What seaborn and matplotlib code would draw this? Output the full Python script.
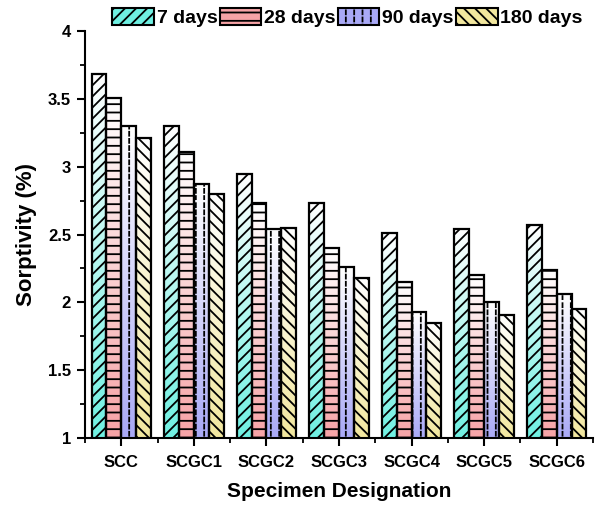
import warnings
warnings.filterwarnings("ignore")
import numpy as np
import pandas as pd
import matplotlib
matplotlib.use("Agg")
import matplotlib.pyplot as plt
import seaborn as sns
from matplotlib import hatch as mhatch
from matplotlib.path import Path
from matplotlib.patches import Patch
from matplotlib.colors import to_rgb
from matplotlib.ticker import MultipleLocator, FixedLocator

# ---- data ----
specimens = ["SCC", "SCGC1", "SCGC2", "SCGC3", "SCGC4", "SCGC5", "SCGC6"]
ages = ["7 days", "28 days", "90 days", "180 days"]
days7 = [3.68, 3.30, 2.95, 2.73, 2.51, 2.54, 2.57]
days28 = [3.51, 3.11, 2.73, 2.40, 2.15, 2.20, 2.24]
days90 = [3.30, 2.87, 2.54, 2.26, 1.93, 2.00, 2.06]
days180 = [3.21, 2.80, 2.55, 2.18, 1.85, 1.91, 1.95]
yticks = [1, 1.5, 2, 2.5, 3, 3.5, 4]
ytick_labels = ["1", "1.5", "2", "2.5", "3", "3.5", "4"]

colors = ["#6ff0e2", "#f6a3a6", "#a9a9f6", "#f2e79e"]
hatches = ["///", "--", "::", "\\\\\\"]


# custom hatch: vertical dashed lines
class VerticalDashHatch(mhatch.HatchPatternBase):
    def __init__(self, hatch, density):
        self.num_lines = int(hatch.count(":") * density)
        self.segs = 14
        self.num_vertices = self.num_lines * self.segs * 2

    def set_vertices_and_codes(self, vertices, codes):
        xs, step = np.linspace(0.0, 1.0, self.num_lines, False, retstep=True)
        xs = xs + step / 2.0
        ys, ystep = np.linspace(0.0, 1.0, self.segs, False, retstep=True)
        i = 0
        for x in xs:
            for y in ys:
                vertices[i] = (x, y)
                vertices[i + 1] = (x, y + ystep * 0.55)
                codes[i] = Path.MOVETO
                codes[i + 1] = Path.LINETO
                i += 2


mhatch._hatch_types.append(VerticalDashHatch)

df = pd.DataFrame({
    "Specimen": specimens * 4,
    "Age": sum([[a] * len(specimens) for a in ages], []),
    "Sorptivity": days7 + days28 + days90 + days180,
})

plt.rcParams["font.family"] = ["Liberation Sans", "DejaVu Sans"]
plt.rcParams["font.weight"] = "bold"
plt.rcParams["hatch.linewidth"] = 1.3
plt.rcParams["hatch.color"] = "black"

fig = plt.figure(figsize=(5.97, 5.08), dpi=100)
ax = fig.add_axes([0.1424, 0.1378, 0.8509, 0.801])

sns.barplot(data=df, x="Specimen", y="Sorptivity", hue="Age",
            order=specimens, hue_order=ages, palette=colors,
            width=0.82, gap=0, ax=ax, legend=False, errorbar=None)

ax.set_ylim(1, 4)
ax.set_xlim(-0.5, 6.5)

for k, cont in enumerate(ax.containers):
    rgb = np.array(to_rgb(colors[k]))
    for bar in cont.patches:
        x, w = bar.get_x(), bar.get_width()
        top = bar.get_y() + bar.get_height()
        n = 100
        t = np.linspace(0, 1, n)[:, None]  # 0 at top -> 1 at bottom
        grad = np.ones((n, 1, 3)) * (1 - t[..., None]) + rgb[None, None, :] * t[..., None]
        grad = np.clip(grad, 0, 1)
        im = ax.imshow(grad, extent=[x, x + w, 1.0, top], origin="upper",
                       aspect="auto", zorder=1, interpolation="bilinear")
        im.set_clip_path(bar)
        bar.set_facecolor("none")
        bar.set_edgecolor("black")
        bar.set_linewidth(1.6)
        bar.set_hatch(hatches[k])
        bar.set_zorder(2)

ax.set_ylim(1, 4)
ax.set_xlim(-0.5, 6.5)

sns.despine(ax=ax)
for s in ["left", "bottom"]:
    ax.spines[s].set_linewidth(1.5)

ax.set_yticks(yticks)
ax.set_yticklabels(ytick_labels)
ax.yaxis.set_minor_locator(MultipleLocator(0.25))
ax.xaxis.set_minor_locator(FixedLocator(np.arange(-0.5, 7, 1)))
ax.tick_params(axis="both", which="major", length=6, width=1.5, direction="out", pad=4)
ax.tick_params(axis="both", which="minor", length=3.5, width=1.3, direction="out")
ax.tick_params(axis="y", labelsize=12)
ax.tick_params(axis="x", labelsize=12, pad=6)
for lab in ax.get_xticklabels() + ax.get_yticklabels():
    lab.set_fontweight("bold")

ax.set_xlabel("Specimen Designation", fontsize=15, fontweight="bold", labelpad=9)
ax.set_ylabel("Sorptivity (%)", fontsize=16, fontweight="bold", labelpad=8)

handles = [Patch(facecolor=colors[k], edgecolor="black", hatch=hatches[k],
                 linewidth=1.5, label=ages[k]) for k in range(4)]
leg = fig.legend(handles=handles, loc="center", bbox_to_anchor=(0.582, 0.965),
                 ncol=4, frameon=False, handlelength=2.15,
                 handleheight=0.93, handletextpad=0.15, columnspacing=0.1,
                 prop={"weight": "bold", "size": 14})

fig.savefig("out.png", dpi=100)
